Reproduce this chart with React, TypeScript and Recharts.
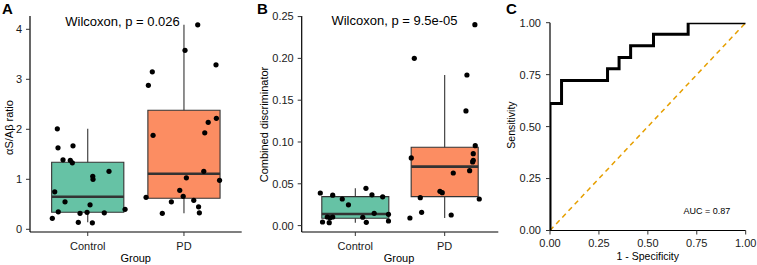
import {
  ComposedChart,
  Scatter,
  Line,
  XAxis,
  YAxis,
  ReferenceArea,
  ReferenceLine,
} from "recharts";

const FONT = "'Liberation Sans', Arial, Helvetica, sans-serif";

const groups = ["Control", "PD"];
const groupColors = ["#66C2A5", "#FC8D62"];

// panel A: aS/Ab ratio (jitter position on the group axis, value)
const ratioControlX = [0.684, 0.691, 0.847, 0.743, 0.819, 0.84, 1.221, 1.052, 1.055, 0.657, 0.764, 1.024, 0.694, 0.92, 0.993, 1.172, 1.388, 0.632, 0.902, 1.048];
const ratioControlY = [2.01, 1.63, 1.67, 1.39, 1.38, 1.33, 1.16, 1.06, 1.0, 0.75, 0.55, 0.49, 0.35, 0.32, 0.34, 0.33, 0.4, 0.22, 0.14, 0.13];
const ratioPdX = [2.143, 2.011, 2.333, 1.671, 1.63, 2.337, 2.252, 2.216, 1.679, 2.206, 2.025, 2.37, 1.956, 1.992, 1.606, 2.102, 1.869, 2.152, 1.775, 2.16];
const ratioPdY = [4.09, 3.58, 3.29, 3.15, 2.88, 2.22, 2.14, 1.93, 1.88, 1.16, 1.03, 0.98, 0.78, 0.66, 0.64, 0.58, 0.55, 0.45, 0.32, 0.33];
// [lower whisker, q1, median, q3, upper whisker]
const ratioControlBox = [0.14, 0.34, 0.65, 1.34, 2.01];
const ratioPdBox = [0.32, 0.62, 1.11, 2.38, 4.09];
const ratioTicks = [0, 1, 2, 3, 4];

// panel B: combined discriminator
const combControlX = [0.608, 0.747, 0.854, 0.923, 1.119, 1.186, 1.306, 1.211, 1.371, 1.083, 0.686, 0.717, 0.747, 0.633, 0.708, 1.123, 1.371];
const combControlY = [0.039, 0.0364, 0.0318, 0.0249, 0.0446, 0.0368, 0.0344, 0.0147, 0.0135, 0.01, 0.0103, 0.0094, 0.0103, 0.0043, 0.0035, 0.0039, 0.0055];
const combPdX = [2.338, 1.66, 2.249, 2.238, 2.342, 2.32, 2.32, 2.313, 2.279, 2.096, 1.626, 1.947, 1.973, 1.727, 2.387, 1.742, 2.073, 1.611];
const combPdY = [0.2403, 0.2001, 0.1801, 0.1371, 0.0956, 0.086, 0.0781, 0.0761, 0.0657, 0.0629, 0.0809, 0.041, 0.0394, 0.0334, 0.0318, 0.0159, 0.0127, 0.0091];
const combControlBox = [0.0035, 0.0087, 0.0139, 0.0346, 0.0446];
const combPdBox = [0.0091, 0.0346, 0.0705, 0.0937, 0.1801];
const combTicks = [0, 0.05, 0.1, 0.15, 0.2, 0.25];

// panel C: ROC corners (1 - specificity, sensitivity)
const rocFpr = [0, 0, 0.059, 0.294, 0.353, 0.412, 0.529, 0.706, 1];
const rocTpr = [0, 0.611, 0.722, 0.778, 0.833, 0.889, 0.944, 1, 1];
const rateTicks = [0, 0.25, 0.5, 0.75, 1];

const toPoints = (xs: number[], ys: number[]) => xs.map((x, i) => ({ x, y: ys[i] }));
const rocData = rocFpr.map((fpr, i) => ({ fpr, tpr: rocTpr[i] }));

const tickStyle = { fill: "#1a1a1a", fontSize: 11, fontFamily: FONT };
const axisLineStyle = { stroke: "#000", strokeWidth: 1.2 };
const tickLineStyle = { stroke: "#333", strokeWidth: 1 };

const BlackDot = (props: any) => <circle cx={props.cx} cy={props.cy} r={2.6} fill="#000" />;

function boxMarks(stats: number[], center: number, color: string, key: string) {
  const [lo, q1, med, q3, hi] = stats;
  const half = 0.375;
  return [
    <ReferenceLine key={key + "w1"} segment={[{ x: center, y: lo }, { x: center, y: q1 }]} stroke="#333" strokeWidth={1.1} />,
    <ReferenceLine key={key + "w2"} segment={[{ x: center, y: q3 }, { x: center, y: hi }]} stroke="#333" strokeWidth={1.1} />,
    <ReferenceArea key={key + "box"} x1={center - half} x2={center + half} y1={q1} y2={q3} fill={color} fillOpacity={1} stroke="#333" strokeWidth={1.1} />,
    <ReferenceLine key={key + "med"} segment={[{ x: center - half, y: med }, { x: center + half, y: med }]} stroke="#333" strokeWidth={2.6} />,
  ];
}

function GroupBoxPlot(props: {
  width: number;
  yAxisWidth: number;
  marginRight: number;
  domain: number[];
  ticks: number[];
  fmt: (v: number) => string;
  controlBox: number[];
  pdBox: number[];
  control: { x: number; y: number }[];
  pd: { x: number; y: number }[];
}) {
  return (
    <ComposedChart width={props.width} height={265} margin={{ top: 16, right: props.marginRight, bottom: 0, left: 0 }}>
      <XAxis
        type="number"
        dataKey="x"
        domain={[0.4, 2.6]}
        ticks={[1, 2]}
        interval={0}
        allowDataOverflow
        tickFormatter={(v: number) => groups[v - 1]}
        height={33}
        tickSize={4}
        tickMargin={6}
        tick={tickStyle}
        axisLine={axisLineStyle}
        tickLine={tickLineStyle}
      />
      <YAxis
        type="number"
        dataKey="y"
        domain={props.domain}
        ticks={props.ticks}
        interval={0}
        allowDataOverflow
        tickFormatter={props.fmt}
        width={props.yAxisWidth}
        tickSize={4}
        tickMargin={4}
        tick={tickStyle}
        axisLine={axisLineStyle}
        tickLine={tickLineStyle}
      />
      {boxMarks(props.controlBox, 1, groupColors[0], "c")}
      {boxMarks(props.pdBox, 2, groupColors[1], "p")}
      <Scatter data={props.control} shape={BlackDot} isAnimationActive={false} />
      <Scatter data={props.pd} shape={BlackDot} isAnimationActive={false} />
    </ComposedChart>
  );
}

export default function App() {
  return (
    <div style={{ position: "absolute", left: 0, top: 0, width: 757, height: 265, background: "#fff", fontFamily: FONT }}>
      <div style={{ position: "absolute", left: 0, top: 0 }}>
        <GroupBoxPlot
          width={250}
          yAxisWidth={30}
          marginRight={8.3}
          domain={[-0.054, 4.266]}
          ticks={ratioTicks}
          fmt={(v) => String(v)}
          controlBox={ratioControlBox}
          pdBox={ratioPdBox}
          control={toPoints(ratioControlX, ratioControlY)}
          pd={toPoints(ratioPdX, ratioPdY)}
        />
      </div>
      <div style={{ position: "absolute", left: 250, top: 0 }}>
        <GroupBoxPlot
          width={250}
          yAxisWidth={51.7}
          marginRight={1.7}
          domain={[-0.00766, 0.2507]}
          ticks={combTicks}
          fmt={(v) => v.toFixed(2)}
          controlBox={combControlBox}
          pdBox={combPdBox}
          control={toPoints(combControlX, combControlY)}
          pd={toPoints(combPdX, combPdY)}
        />
      </div>
      <div style={{ position: "absolute", left: 500, top: 0 }}>
        <ComposedChart width={257} height={265} data={rocData} margin={{ top: 22.7, right: 11.3, bottom: 0, left: 0 }}>
          <XAxis
            type="number"
            dataKey="fpr"
            domain={[0, 1]}
            ticks={rateTicks}
            interval={0}
            allowDataOverflow
            tickFormatter={(v: number) => v.toFixed(2)}
            height={34.5}
            tickSize={4}
            tickMargin={5}
            tick={tickStyle}
            axisLine={axisLineStyle}
            tickLine={tickLineStyle}
          />
          <YAxis
            type="number"
            domain={[0, 1]}
            ticks={rateTicks}
            interval={0}
            allowDataOverflow
            tickFormatter={(v: number) => v.toFixed(2)}
            width={50}
            tickSize={4}
            tickMargin={5}
            tick={tickStyle}
            axisLine={axisLineStyle}
            tickLine={tickLineStyle}
          />
          <ReferenceLine segment={[{ x: 0, y: 0 }, { x: 1, y: 1 }]} stroke="#E69F00" strokeWidth={1.5} strokeDasharray="5 4" />
          <Line dataKey="tpr" type="stepAfter" stroke="#000" strokeWidth={3} dot={false} isAnimationActive={false} />
        </ComposedChart>
      </div>
      <svg width={757} height={265} style={{ position: "absolute", left: 0, top: 0, pointerEvents: "none" }} fontFamily={FONT}>
        <text x={2} y={13.5} fontSize={15} fontWeight="bold" fill="#000">A</text>
        <text x={257} y={13.5} fontSize={15} fontWeight="bold" fill="#000">B</text>
        <text x={506} y={13.5} fontSize={15} fontWeight="bold" fill="#000">C</text>
        <text x={122.5} y={25.7} fontSize={13} textAnchor="middle" fill="#000">Wilcoxon, p = 0.026</text>
        <text x={394.5} y={25.4} fontSize={13} textAnchor="middle" fill="#000">Wilcoxon, p = 9.5e-05</text>
        <text x={135.7} y={261.5} fontSize={11} textAnchor="middle" fill="#000">Group</text>
        <text x={399} y={261.5} fontSize={11} textAnchor="middle" fill="#000">Group</text>
        <text x={647.8} y={259.5} fontSize={10.5} textAnchor="middle" fill="#000">1 - Specificity</text>
        <text x={13} y={127.5} fontSize={11} textAnchor="middle" fill="#000" transform="rotate(-90, 13, 127.5)">αS/Aβ ratio</text>
        <text x={267.5} y={124.5} fontSize={11} textAnchor="middle" fill="#000" transform="rotate(-90, 267.5, 124.5)">Combined discriminator</text>
        <text x={514.8} y={125} fontSize={10.5} textAnchor="middle" fill="#000" transform="rotate(-90, 514.8, 125)">Sensitivity</text>
        <text x={706.8} y={213.9} fontSize={9} textAnchor="middle" fill="#000">AUC = 0.87</text>
      </svg>
    </div>
  );
}
